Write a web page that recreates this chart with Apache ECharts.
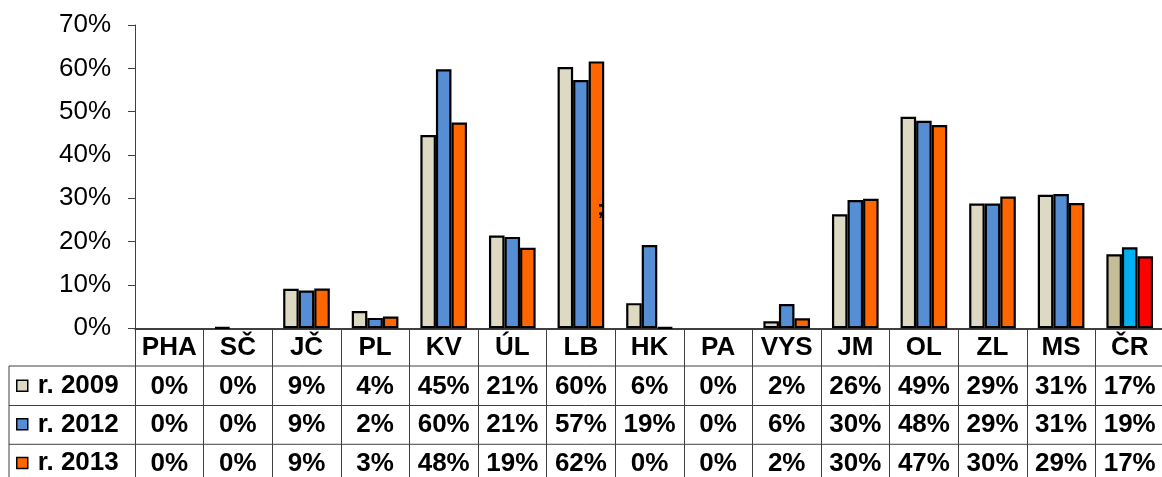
<!DOCTYPE html>
<html>
<head>
<meta charset="utf-8">
<script src="https://cdn.jsdelivr.net/npm/echarts@6/dist/echarts.min.js"></script>
<style>
html,body{margin:0;padding:0;background:#fff;}
#c{width:1162px;height:477px;}
</style>
</head>
<body>
<div id="c"></div>
<script>
var categories = ['PHA','SČ','JČ','PL','KV','ÚL','LB','HK','PA','VYS','JM','OL','ZL','MS','ČR'];
var seriesNames = ['r. 2009','r. 2012','r. 2013'];
var r2009 = [0, 0.2, 9.1, 4.0, 44.6, 21.4, 60.3, 5.8, 0, 1.6, 26.3, 48.8, 28.8, 30.8, 17.1];
var r2012 = [0, 0, 8.7, 2.4, 59.8, 21.1, 57.3, 19.2, 0, 5.6, 29.6, 47.9, 28.8, 31.0, 18.7];
var r2013 = [0, 0, 9.2, 2.7, 47.5, 18.6, 61.6, 0.2, 0, 2.3, 29.9, 46.9, 30.4, 28.9, 16.6];
var seriesColors = ['#DDD9C3', '#558ED5', '#FF6600'];
var crColors = ['#C4BD97', '#00B0F0', '#FF0000'];
var yTicks = [0, 10, 20, 30, 40, 50, 60, 70];

var allSeries = [r2009, r2012, r2013];
var FONT = '"Liberation Sans", Arial, sans-serif';

function pct(v){ return Math.round(v) + '%'; }

var chart = echarts.init(document.getElementById('c'), null, {renderer:'canvas'});

var series = allSeries.map(function(arr, si){
  return {
    name: seriesNames[si],
    type: 'bar',
    barGap: '0%',
    barCategoryGap: '32%',
    itemStyle: { color: seriesColors[si], borderColor: '#000', borderWidth: 2.2 },
    data: arr.map(function(v, i){
      var val = v === 0 ? null : v;
      if (categories[i] === 'ČR') {
        return { value: val, itemStyle: { color: crColors[si] } };
      }
      return val;
    }),
    emphasis: { disabled: true },
    animation: false
  };
});

var lineStyle = { stroke: '#404040', lineWidth: 1 };
var rowLines = [366, 405.5, 444.3];
var graphics = rowLines.map(function(y){
  return { type: 'line', shape: { x1: 9, y1: y, x2: 1162, y2: y }, style: lineStyle, silent: true };
});
graphics.push({ type: 'line', shape: { x1: 9, y1: 366, x2: 9, y2: 477 }, style: lineStyle, silent: true });
graphics.push({ type: 'text', x: 597, y: 199, z: 100, style: { text: ';', font: 'bold 21px ' + FONT, fill: '#000' }, silent: true });

chart.setOption({
  animation: false,
  backgroundColor: '#fff',
  textStyle: { fontFamily: FONT },
  grid: { left: 135, top: 25, width: 1029, height: 303.3, containLabel: false, outerBoundsMode: 'none' },
  legend: {
    orient: 'vertical',
    left: 16,
    top: 366.3,
    height: 200,
    padding: 0,
    itemWidth: 11,
    itemHeight: 11,
    itemGap: 0,
    icon: 'rect',
    selectedMode: false,
    itemStyle: { borderColor: '#000', borderWidth: 1.5 },
    textStyle: { fontFamily: FONT, fontSize: 26, fontWeight: 'bold', color: '#000', lineHeight: 38.7, padding: [0,0,0,5] },
    data: seriesNames
  },
  xAxis: {
    type: 'category',
    data: categories,
    boundaryGap: true,
    axisLine: { show: true, lineStyle: { color: '#000', width: 1.5 } },
    axisTick: { show: true, alignWithLabel: false, length: 160, lineStyle: { color: '#404040', width: 1 } },
    axisLabel: {
      interval: 0,
      margin: 0,
      fontFamily: FONT,
      fontSize: 26,
      fontWeight: 'bold',
      color: '#000',
      lineHeight: 38.7,
      hideOverlap: false,
      formatter: function(val, idx){
        var i = categories.indexOf(val);
        return [val, pct(r2009[i]), pct(r2012[i]), pct(r2013[i])].join('\n');
      }
    },
    splitLine: { show: false }
  },
  yAxis: {
    type: 'value',
    min: yTicks[0],
    max: yTicks[yTicks.length - 1],
    interval: 10,
    axisLine: { show: true, lineStyle: { color: '#404040', width: 1 } },
    axisTick: { show: true, length: 7, lineStyle: { color: '#404040', width: 1 } },
    axisLabel: { fontFamily: FONT, fontSize: 26, color: '#000', margin: 24, formatter: '{value}%' },
    splitLine: { show: false }
  },
  graphic: graphics,
  series: series
});
</script>
</body>
</html>
